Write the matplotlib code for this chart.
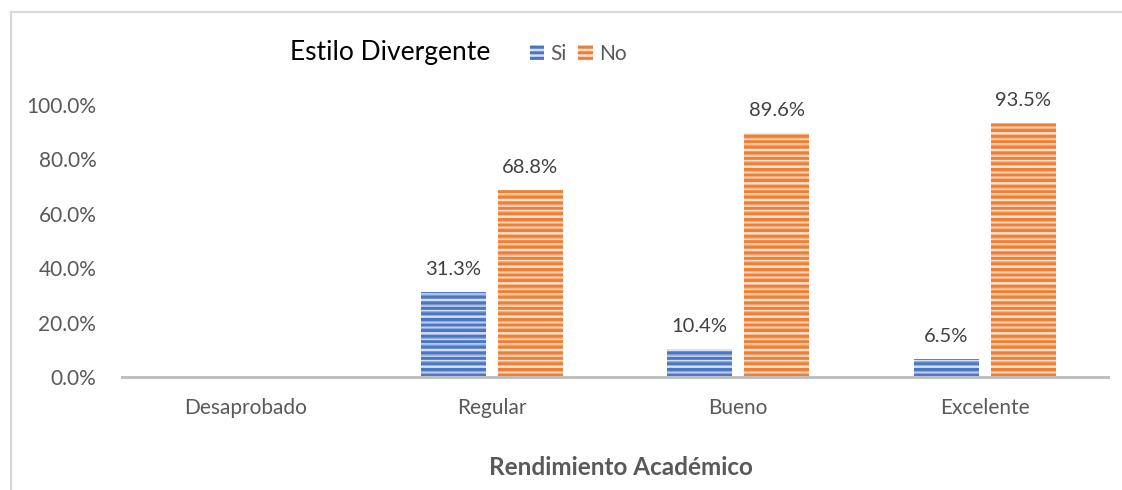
import matplotlib.pyplot as plt
from matplotlib.patches import Patch
from matplotlib.lines import Line2D
import numpy as np

# Data
categories = ["Desaprobado", "Regular", "Bueno", "Excelente"]
si_values = [None, 31.3, 10.4, 6.5]
no_values = [None, 68.8, 89.6, 93.5]
series_names = ["Si", "No"]
legend_title = "Estilo Divergente"
x_title = "Rendimiento Académico"

# Style
plt.rcParams['font.family'] = ['Lato', 'DejaVu Sans']
plt.rcParams['hatch.linewidth'] = 2.2
BLUE = "#4a76c6"
BLUE_LIGHT = "#d6e0f2"
ORANGE = "#ee8036"
ORANGE_LIGHT = "#fce3d2"
GRAY_TXT = "#595959"

fig = plt.figure(figsize=(11.22, 4.9), dpi=100)
ax = fig.add_axes([0.1087, 0.2306, 0.8788, 0.5551])

x = np.arange(len(categories))
width = 0.264
offset = 0.156


def draw_series(vals, pos, face, hatch_color):
    xs = [p for p, v in zip(pos, vals) if v is not None]
    ys = [v for v in vals if v is not None]
    bars = ax.bar(xs, ys, width, color=face, edgecolor=hatch_color,
                  hatch="---", linewidth=0)
    ax.bar(xs, ys, width, color="none", edgecolor=hatch_color,
           hatch="--", linewidth=0, alpha=0.5)
    for b, v in zip(bars, ys):
        ax.annotate(f"{v:.1f}%", (b.get_x() + b.get_width() / 2, v),
                    xytext=(0, 10), textcoords="offset points",
                    ha="center", va="bottom", fontsize=14.5, color="#404040",
                    annotation_clip=False)


draw_series(si_values, x - offset, BLUE_LIGHT, BLUE)
draw_series(no_values, x + offset, ORANGE_LIGHT, ORANGE)

ax.set_xlim(-0.5, len(categories) - 0.5)
ax.set_ylim(0, 100)
ax.set_yticks(np.arange(0, 101, 20))
ax.set_yticklabels([f"{v:.1f}%" for v in np.arange(0, 101, 20)])
ax.set_xticks(x)
ax.set_xticklabels(categories)
ax.tick_params(axis="both", length=0, labelsize=15, labelcolor=GRAY_TXT)
ax.tick_params(axis="y", pad=18.5)
ax.tick_params(axis="x", pad=15)
for s in ["top", "right", "left"]:
    ax.spines[s].set_visible(False)
ax.spines["bottom"].set_color("#bfbfbf")
ax.spines["bottom"].set_linewidth(2.2)

fig.text(0.553, 0.045, x_title, ha="center", va="center", fontsize=17.5,
         fontweight="bold", color=GRAY_TXT)

# Legend with title on the left
fig.text(0.2585, 0.893, legend_title, ha="left", va="center", fontsize=19,
         color="black")
handles = [Patch(facecolor=BLUE_LIGHT, edgecolor=BLUE, hatch="---", linewidth=0),
           Patch(facecolor=ORANGE_LIGHT, edgecolor=ORANGE, hatch="---", linewidth=0)]
leg = fig.legend(handles, series_names, loc="center left",
                 bbox_to_anchor=(0.4645, 0.89), ncol=2, frameon=False,
                 fontsize=15, handlelength=0.7, handleheight=0.7,
                 handletextpad=0.3, columnspacing=0.55, borderaxespad=0)
for t in leg.get_texts():
    t.set_color(GRAY_TXT)

# Outer frame lines (top and left)
fig.add_artist(Line2D([11 / 1122, 1], [1 - 12.5 / 490] * 2,
                      transform=fig.transFigure, color="#d9d9d9", lw=1.6))
fig.add_artist(Line2D([11 / 1122] * 2, [0, 1 - 12.5 / 490],
                      transform=fig.transFigure, color="#d9d9d9", lw=1.6))

fig.savefig("out.png", dpi=100, facecolor="white")
